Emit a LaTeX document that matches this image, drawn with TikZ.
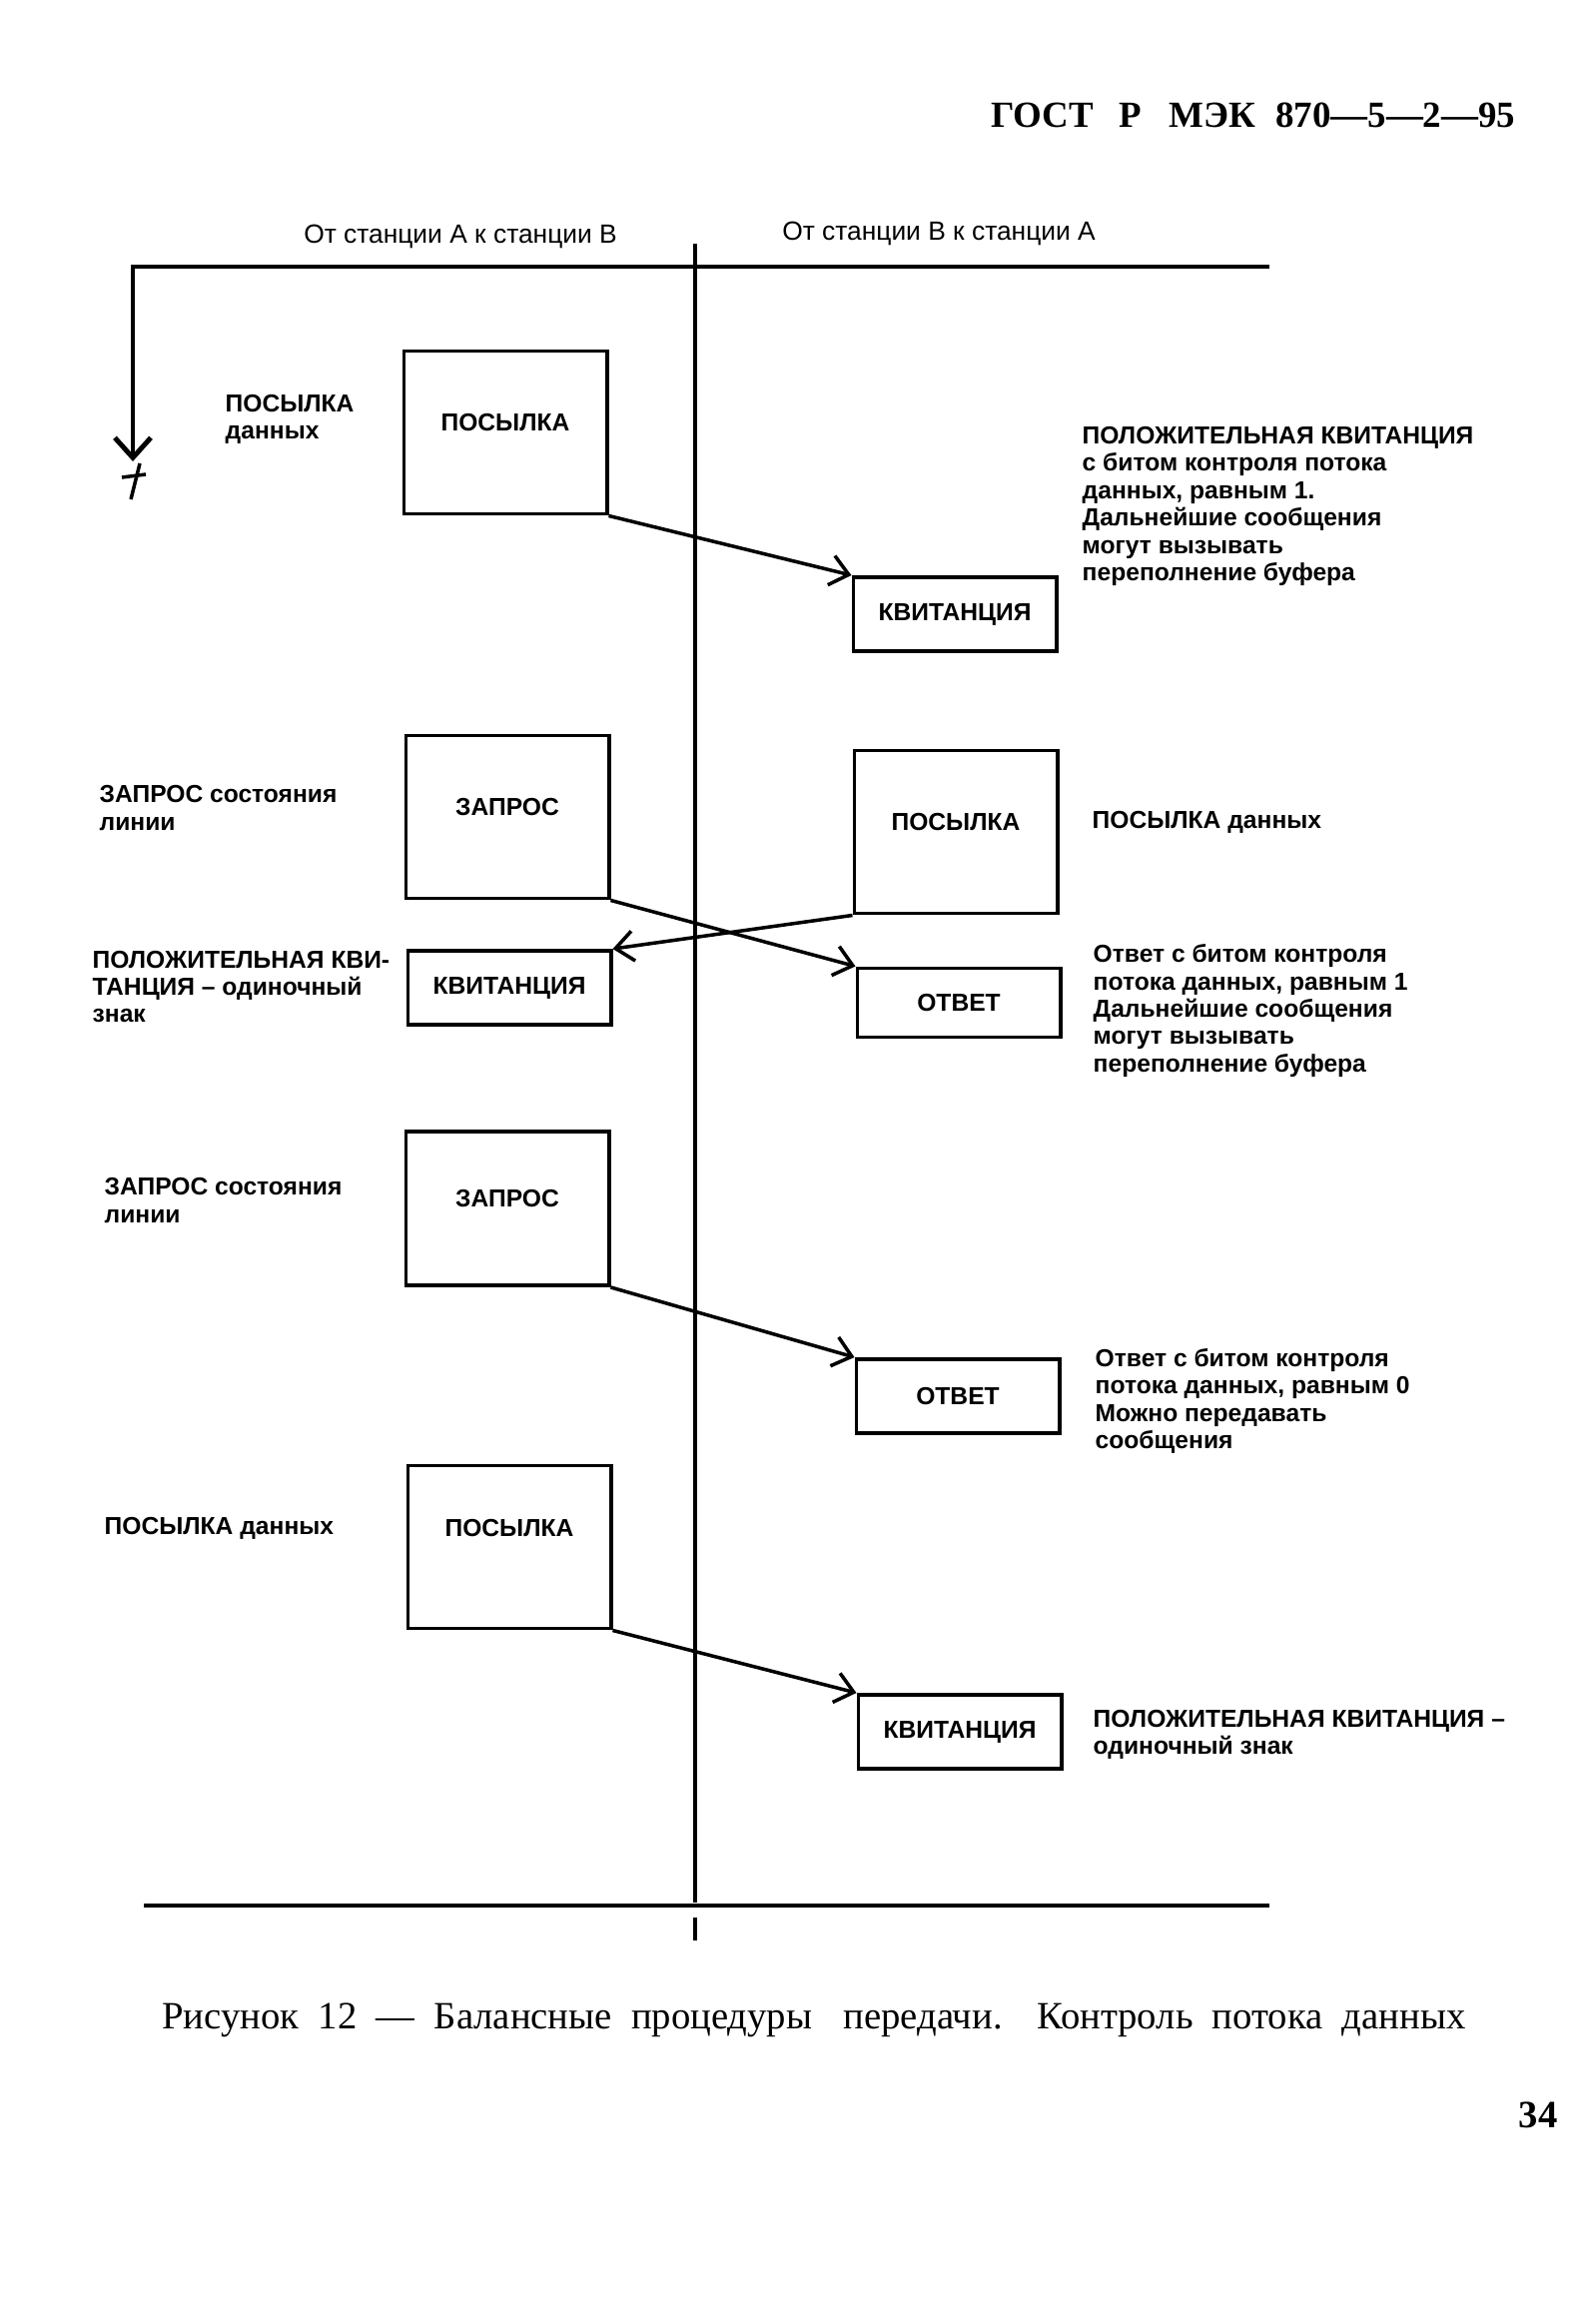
\documentclass[tikz,border=0pt]{standalone}
\usepackage{fontspec}
\setmainfont{Liberation Serif}
\newfontfamily\diagfont{Liberation Sans}
\newfontfamily\captionfont{Liberation Serif}[WordSpace=2]
\usetikzlibrary{arrows.meta}

\begin{document}
\begin{tikzpicture}[
    x=0.01cm, y=-0.01cm,
    box/.style={rectangle, draw, line width=1.1pt, minimum width=2.03cm,
        minimum height=0.74cm, inner sep=1pt,
        font=\diagfont\bfseries\fontsize{7}{7.8}\selectfont},
    tallbox/.style={box, minimum height=1.63cm, text depth=0.2cm},
    note/.style={anchor=west, align=left, inner sep=0pt,
        font=\diagfont\bfseries\fontsize{7}{7.8}\selectfont},
    arrow/.style={-{Straight Barb[length=1.8mm, width=3mm]}, line width=1pt},
    bigarrow/.style={-{Straight Barb[length=2mm, width=3.6mm, line width=1.4pt]}, line width=1.1pt},
    rule/.style={line width=0.9pt}
]
    \useasboundingbox (0,0) rectangle (1598,2322);

    % page header and column heads
    \node[anchor=east, inner sep=0pt, font=\bfseries\fontsize{10.5}{13}\selectfont] (gost) at (1518,115)
        {ГОСТ\hspace{0.25cm}Р\hspace{0.28cm}МЭК\hspace{0.2cm}870—5—2—95};
    \node[font=\diagfont\fontsize{7.5}{9}\selectfont] (headab) at (461,237) {От станции А к станции В};
    \node[font=\diagfont\fontsize{7.5}{9}\selectfont] (headba) at (940,234) {От станции В к станции А};

    % frame lines
    \coordinate (topleft) at (133,267);
    \coordinate (topright) at (1271,267);
    \coordinate (downtip) at (133,462);
    \coordinate (midtop) at (696,244);
    \coordinate (midbot) at (696,1905);
    \coordinate (ticktop) at (696,1920);
    \coordinate (tickbot) at (696,1943);
    \coordinate (botleft) at (144,1908);
    \coordinate (botright) at (1271,1908);

    \draw[bigarrow] (topright) -- (topleft) -- (downtip);
    \draw[rule] (midtop) -- (midbot);
    \draw[rule] (ticktop) -- (tickbot);
    \draw[rule] (botleft) -- (botright);
    % small cross under the arrow
    \draw[line width=1pt] (122,478) -- (146,475);
    \draw[line width=1pt] (140,464) -- (131,500);

    % boxes
    \node[tallbox] (p1) at (506,433) {ПОСЫЛКА};
    \node[box] (k1) at (956,615) {КВИТАНЦИЯ};
    \node[tallbox] (z1) at (508,818) {ЗАПРОС};
    \node[tallbox] (p2) at (957,833) {ПОСЫЛКА};
    \node[box] (k2) at (510,989) {КВИТАНЦИЯ};
    \node[box, minimum height=0.69cm] (o1) at (960,1004) {ОТВЕТ};
    \node[tallbox, minimum height=1.54cm] (z2) at (508,1210) {ЗАПРОС};
    \node[box] (o2) at (959,1398) {ОТВЕТ};
    \node[tallbox, text depth=0.38cm] (p3) at (510,1549) {ПОСЫЛКА};
    \node[box] (k3) at (961,1734) {КВИТАНЦИЯ};

    % notes
    \node[note] (n1) at (225,420) {ПОСЫЛКА\\данных};
    \node[note] (n2) at (1083,507) {ПОЛОЖИТЕЛЬНАЯ КВИТАНЦИЯ\\с битом контроля потока\\данных, равным 1.\\Дальнейшие сообщения\\могут вызывать\\переполнение буфера};
    \node[note] (n3) at (99,809) {ЗАПРОС состояния\\линии};
    \node[note] (n4) at (1093,823) {ПОСЫЛКА данных};
    \node[note] (n5) at (92,988) {ПОЛОЖИТЕЛЬНАЯ КВИ-\\ТАНЦИЯ – одиночный\\знак};
    \node[note] (n6) at (1094,1012) {Ответ с битом контроля\\потока данных, равным 1\\Дальнейшие сообщения\\могут вызывать\\переполнение буфера};
    \node[note] (n7) at (104,1202) {ЗАПРОС состояния\\линии};
    \node[note] (n8) at (1096,1403) {Ответ с битом контроля\\потока данных, равным 0\\Можно передавать\\сообщения};
    \node[note] (n9) at (104,1530) {ПОСЫЛКА данных};
    \node[note] (n10) at (1094,1737) {ПОЛОЖИТЕЛЬНАЯ КВИТАНЦИЯ –\\одиночный знак};

    % transfers
    \draw[arrow] (p1.south east) -- (k1.north west);
    \draw[arrow] (z1.south east) -- (o1.north west);
    \draw[arrow] (p2.south west) -- (k2.north east);
    \draw[arrow] (z2.south east) -- (o2.north west);
    \draw[arrow] (p3.south east) -- (k3.north west);

    % caption and page number
    \node[font=\captionfont\fontsize{11}{13}\selectfont] (caption) at (815,2023)
        {Рисунок 12 — Балансные процедуры\hspace{0.12cm} передачи.\hspace{0.12cm} Контроль потока данных};
    \node[font=\bfseries\fontsize{11}{13}\selectfont] (page) at (1540,2118) {34};
\end{tikzpicture}
\end{document}
